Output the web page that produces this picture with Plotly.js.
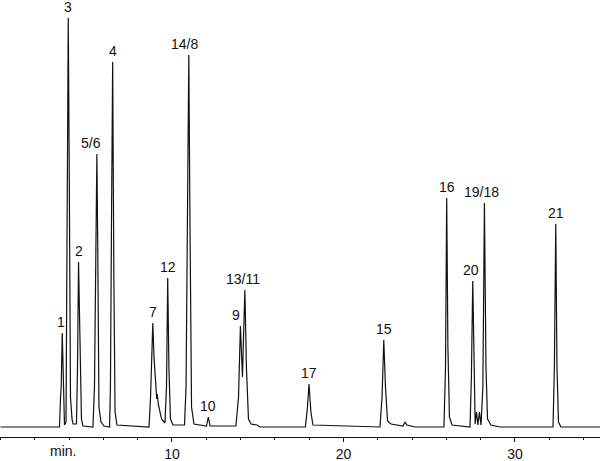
<!DOCTYPE html>
<html>
<head>
<meta charset="utf-8">
<script src="https://cdn.plot.ly/plotly-3.0.1.min.js"></script>
<style>
html,body{margin:0;padding:0;background:#fff;}
#chart{width:600px;height:461px;}
#chart text{font-stretch:condensed;}
</style>
</head>
<body>
<div id="chart"></div>
<script>
// Chromatogram trace: retention time (min) and detector signal (arbitrary units)
const time = [0, 3.44, 3.50, 3.54, 3.60, 3.67, 3.73, 3.82, 3.88, 3.95, 4.01, 4.08, 4.17, 4.23, 4.43, 4.49, 4.55, 4.62, 4.72, 4.81,
  5.39, 5.48, 5.54, 5.62, 5.67, 5.74, 5.86, 6.04, 6.36, 6.41, 6.47, 6.54, 6.61, 6.68, 6.79,
  8.66, 8.75, 8.88, 8.95, 9.04, 9.11, 9.14, 9.21, 9.39, 9.59, 9.68, 9.75, 9.82, 9.91, 10.06,
  10.73, 10.82, 10.90, 10.98, 11.05, 11.14, 11.28, 12.01, 12.12, 12.22,
  13.73, 13.88, 13.99, 14.11, 14.17, 14.25, 14.34, 14.46, 14.61, 14.96, 15.13,
  17.78, 17.90, 17.99, 18.10, 18.22, 22.13, 22.25, 22.35, 22.45, 22.57, 22.77, 23.47, 23.59, 23.70, 23.88, 24.17,
  25.86, 25.95, 26.02, 26.09, 26.18, 26.33, 27.38, 27.46, 27.54, 27.61, 27.68, 27.76, 27.84, 27.93, 28.02,
  28.13, 28.22, 28.31, 28.40, 28.60, 29.13, 32.22, 32.30, 32.38, 32.45, 32.54, 32.68, 35];
const signal = [0, 0, 30, 40, 94, 20, 2, 5, 190, 409, 250, 30, 8, 3, 3, 60, 165, 80, 8, 1,
  0, 40, 160, 273, 180, 20, 5, 1, 0, 40, 200, 365, 150, 15, 2,
  0, 30, 104, 70, 45, 28, 33, 22, 8, 4, 40, 149, 60, 8, 2,
  2, 40, 200, 372, 200, 20, 3, 1, 10, 1,
  1, 30, 101, 50, 90, 137, 60, 8, 3, 2, 0,
  0, 20, 43, 15, 2, 0, 30, 87, 40, 6, 3, 1, 5, 2, 1, 0,
  0, 60, 229, 80, 10, 2, 0, 50, 146, 50, 3, 15, 2, 15, 2,
  40, 224, 60, 8, 2, 0, 0, 60, 203, 60, 5, 0, 0];

// Peak labels
const peakLabels = ["1", "3", "2", "5/6", "4", "7", "12", "14/8", "10", "9", "13/11", "17", "15", "16", "20", "19/18", "21"];
const peakTimes  = [3.60, 3.95, 4.55, 5.62, 6.54, 8.88, 9.75, 10.98, 12.12, 13.99, 14.25, 17.99, 22.35, 26.02, 27.54, 28.22, 32.38];
const peakHeights = [94, 409, 165, 273, 365, 104, 149, 372, 10, 101, 137, 43, 87, 229, 146, 224, 203];

// Axis ticks
const tickValues = [10, 20, 30];
const tickLabels = ["10", "20", "30"];
const unitLabel = "min.";
const unitLabelTime = 3.65;

const labelShift = {"5/6": -6, "14/8": -4, "9": -4, "13/11": -2, "20": -2, "19/18": -3, "1": -1};

const font = {family: "Liberation Sans Narrow, Liberation Sans, Arial, sans-serif", size: 14, color: "#111"};

const annotations = peakLabels.map((t, i) => ({
  text: t, x: peakTimes[i], y: peakHeights[i], xref: "x", yref: "y",
  showarrow: false, yanchor: "bottom", xanchor: "center", yshift: 1,
  xshift: labelShift[t] || 0, font: font
}));
annotations.push({text: unitLabel, x: unitLabelTime, y: 0, xref: "x", yref: "paper",
  showarrow: false, yanchor: "top", xanchor: "center", yshift: -5, borderpad: 0, font: font});

const data = [{
  x: time, y: signal, type: "scatter", mode: "lines",
  line: {color: "#111", width: 1.2}, hoverinfo: "skip"
}];

const layout = {
  width: 600, height: 461,
  margin: {l: 0, r: 0, t: 0, b: 24, pad: 0},
  paper_bgcolor: "#fff", plot_bgcolor: "#fff",
  showlegend: false,
  xaxis: {
    range: [-0.03, 34.96], showgrid: false, zeroline: false,
    showline: true, linecolor: "#111", linewidth: 1,
    ticks: "outside", ticklen: 4, tickwidth: 1, tickcolor: "#111",
    tickvals: tickValues, ticktext: tickLabels, tickfont: font,
    minor: {ticks: "outside", dtick: 2, tick0: 0, ticklen: 2, tickwidth: 1, tickcolor: "#111", showgrid: false}
  },
  yaxis: {range: [-10, 427], visible: false, showgrid: false, zeroline: false},
  annotations: annotations
};

Plotly.newPlot("chart", data, layout, {staticPlot: true, displayModeBar: false});
</script>
</body>
</html>
